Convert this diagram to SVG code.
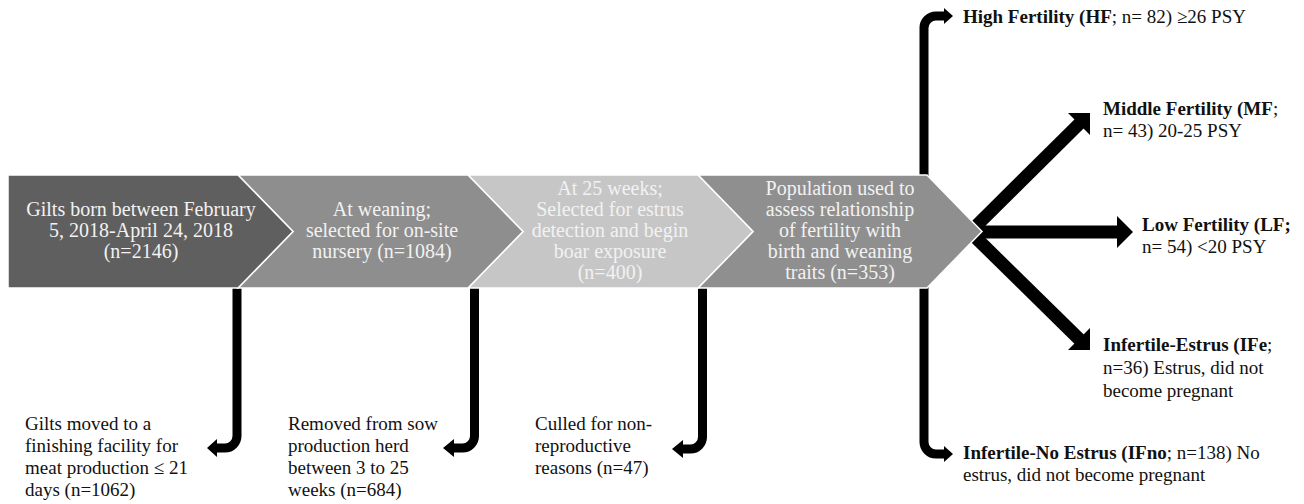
<svg xmlns="http://www.w3.org/2000/svg" width="1304" height="504" viewBox="0 0 1304 504">
<style>
.ct{font-family:"Liberation Serif","Times New Roman",serif;font-size:20px;fill:#f2f2f2;text-anchor:middle}
.lb{font-family:"Liberation Serif","Times New Roman",serif;font-size:19px;fill:#111}
.b{font-weight:bold}
.bar{fill:none;stroke:#000;stroke-width:9}
.thick{fill:none;stroke:#000;stroke-width:13}
.head{fill:#000}
.chev{stroke:#ffffff;stroke-width:1.5}
</style>
<rect width="1304" height="504" fill="#ffffff"/>
<g id="connectors">
<path class="bar" d="M237 288 V436 A12 12 0 0 1 225 448 H216"/>
<polygon class="head" points="217,439 207,448 217,457"/>
<path class="bar" d="M474.5 288 V436 A12 12 0 0 1 462.5 448 H453"/>
<polygon class="head" points="454,439 443,448 454,457"/>
<path class="bar" d="M702.5 288 V437 A12 12 0 0 1 690.5 449 H682"/>
<polygon class="head" points="683,440 672,449 683,458"/>
<path class="bar" d="M924 176 V28 A12 12 0 0 1 936 16 H945"/>
<polygon class="head" points="944,8 953,16 944,24"/>
<path class="bar" d="M924 287 V442 A12 12 0 0 0 936 454 H945"/>
<polygon class="head" points="944,446 953,454 944,462"/>
<line class="thick" x1="965" y1="232" x2="1118" y2="232"/>
<polygon class="head" points="1117,216 1133,232 1117,248"/>
<line class="thick" x1="968" y1="234" x2="1080" y2="123"/>
<polygon class="head" points="1090,113 1090,135 1068,113"/>
<line class="thick" x1="968" y1="230" x2="1080" y2="340"/>
<polygon class="head" points="1090,350 1090,328 1068,350"/>
</g>
<g id="step4">
<polygon class="chev" fill="#8f8f8f" points="698,175 927,175 982,231.5 927,288 698,288 753,231.5"/>
<text class="ct" x="840" y="195">Population used to</text>
<text class="ct" x="840" y="216">assess relationship</text>
<text class="ct" x="840" y="237">of fertility with</text>
<text class="ct" x="840" y="258">birth and weaning</text>
<text class="ct" x="840" y="279">traits (n=353)</text>
</g>
<g id="step3">
<polygon class="chev" fill="#c6c6c6" points="468,175 698,175 753,231.5 698,288 468,288 523,231.5"/>
<text class="ct" x="610" y="195" fill="#eeeeee">At 25 weeks;</text>
<text class="ct" x="610" y="216">Selected for estrus</text>
<text class="ct" x="610" y="237">detection and begin</text>
<text class="ct" x="610" y="258">boar exposure</text>
<text class="ct" x="610" y="279">(n=400)</text>
</g>
<g id="step2">
<polygon class="chev" fill="#8e8e8e" points="238,175 468,175 523,231.5 468,288 238,288 293,231.5"/>
<text class="ct" x="382" y="216">At weaning;</text>
<text class="ct" x="382" y="237">selected for on-site</text>
<text class="ct" x="382" y="258">nursery (n=1084)</text>
</g>
<g id="step1">
<polygon class="chev" fill="#5f5f5f" points="8,175 238,175 293,231.5 238,288 8,288"/>
<text class="ct" x="141" y="216">Gilts born between February</text>
<text class="ct" x="141" y="237">5, 2018-April 24, 2018</text>
<text class="ct" x="141" y="258">(n=2146)</text>
</g>
<g id="out1">
<text class="lb" x="25" y="430">Gilts moved to a</text>
<text class="lb" x="25" y="452">finishing facility for</text>
<text class="lb" x="25" y="474">meat production ≤ 21</text>
<text class="lb" x="25" y="496">days (n=1062)</text>
</g>
<g id="out2">
<text class="lb" x="288" y="430">Removed from sow</text>
<text class="lb" x="288" y="452">production herd</text>
<text class="lb" x="288" y="474">between 3 to 25</text>
<text class="lb" x="288" y="496">weeks (n=684)</text>
</g>
<g id="out3">
<text class="lb" x="535" y="430">Culled for non-</text>
<text class="lb" x="535" y="452">reproductive</text>
<text class="lb" x="535" y="474">reasons (n=47)</text>
</g>
<g id="hf">
<text class="lb" x="963" y="23"><tspan class="b">High Fertility (HF</tspan>; n= 82) ≥26 PSY</text>
</g>
<g id="mf">
<text class="lb" x="1103" y="115"><tspan class="b">Middle Fertility (MF</tspan>;</text>
<text class="lb" x="1103" y="137">n= 43) 20-25 PSY</text>
</g>
<g id="lf">
<text class="lb" x="1142" y="231"><tspan class="b">Low Fertility (LF;</tspan></text>
<text class="lb" x="1142" y="253">n= 54) &lt;20 PSY</text>
</g>
<g id="ife">
<text class="lb" x="1103" y="351"><tspan class="b">Infertile-Estrus (IFe</tspan>;</text>
<text class="lb" x="1103" y="374">n=36) Estrus, did not</text>
<text class="lb" x="1103" y="397">become pregnant</text>
</g>
<g id="ifno">
<text class="lb" x="963" y="459"><tspan class="b">Infertile-No Estrus (IFno</tspan>; n=138) No</text>
<text class="lb" x="963" y="481">estrus, did not become pregnant</text>
</g>
</svg>
